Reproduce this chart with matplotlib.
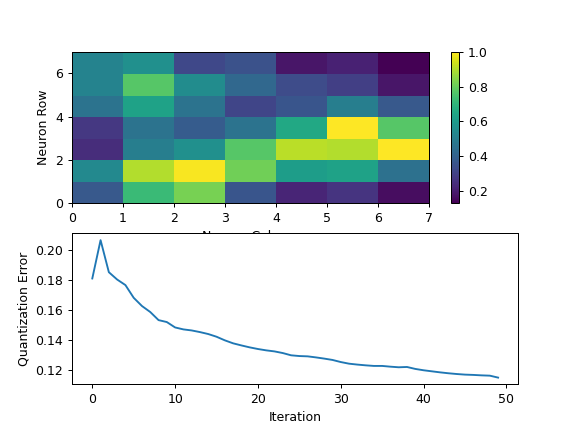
import numpy as np
import matplotlib

matplotlib.use("Agg")
import matplotlib.pyplot as plt

# SOM distance map (rows bottom -> top, columns left -> right)
umatrix = [
    [0.37, 0.72, 0.82, 0.36, 0.22, 0.26, 0.16],
    [0.54, 0.90, 0.99, 0.81, 0.61, 0.63, 0.45],
    [0.24, 0.50, 0.565, 0.77, 0.91, 0.90, 1.00],
    [0.27, 0.46, 0.38, 0.46, 0.65, 1.00, 0.77],
    [0.46, 0.63, 0.46, 0.31, 0.36, 0.50, 0.37],
    [0.52, 0.77, 0.55, 0.42, 0.33, 0.29, 0.18],
    [0.52, 0.565, 0.32, 0.35, 0.18, 0.21, 0.13],
]

# quantization error per training iteration
q_error = [
    0.1811, 0.2067, 0.1853, 0.1804, 0.1767, 0.1682, 0.1627, 0.1587, 0.1533, 0.1520,
    0.1484, 0.1471, 0.1464, 0.1453, 0.1440, 0.1422, 0.1398, 0.1378, 0.1364, 0.1351,
    0.1340, 0.1331, 0.1324, 0.1313, 0.1298, 0.1293, 0.1291, 0.1284, 0.1276, 0.1267,
    0.1253, 0.1242, 0.1236, 0.1231, 0.1227, 0.1227, 0.1222, 0.1218, 0.1220, 0.1207,
    0.1198, 0.1191, 0.1184, 0.1178, 0.1173, 0.1169, 0.1167, 0.1164, 0.1162, 0.1149,
]

fig, (ax1, ax2) = plt.subplots(2, 1, figsize=(6.4, 4.8), dpi=90)

mesh = ax1.pcolor(np.array(umatrix), cmap="viridis")
fig.colorbar(mesh, ax=ax1)
ax1.set_xlabel("Neuron Column")
ax1.set_ylabel("Neuron Row")

ax2.plot(range(len(q_error)), q_error)
ax2.set_xlabel("Iteration")
ax2.set_ylabel("Quantization Error")

fig.savefig("out.png", dpi=90)
